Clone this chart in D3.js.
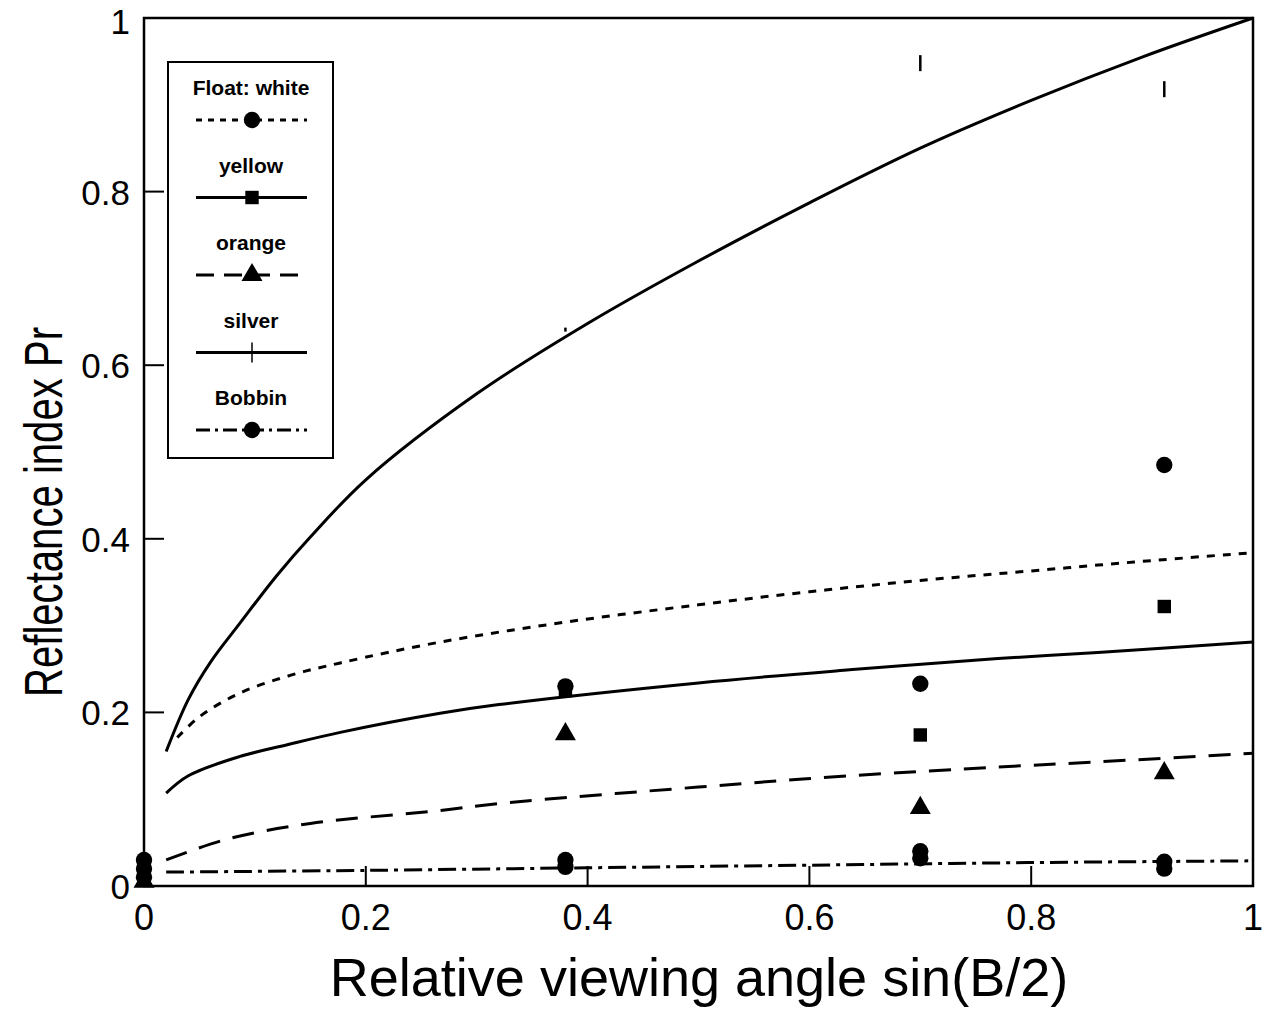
<!DOCTYPE html>
<html>
<head>
<meta charset="utf-8">
<script src="https://cdn.jsdelivr.net/npm/d3@7"></script>
<style>
  body { margin: 0; background: #fff; }
  svg text { font-family: Arial, "Liberation Sans", Helvetica, sans-serif; fill: #000; }
</style>
</head>
<body>
<div id="chart"></div>
<script>
// fitted curves: [sin(B/2), Pr]
var silverCurve = [[0.02,0.155],[0.04,0.215],[0.06,0.258],[0.086,0.302],[0.12,0.358],[0.15,0.402],[0.2,0.468],[0.3,0.567],[0.4,0.648],[0.5,0.72],[0.6,0.787],[0.7,0.85],[0.8,0.905],[0.9,0.955],[1,1.0]];
var whiteCurve = [[0.03,0.171],[0.05,0.195],[0.086,0.222],[0.13,0.242],[0.177,0.257],[0.267,0.281],[0.38,0.304],[0.5,0.324],[0.6,0.339],[0.7,0.352],[0.8,0.363],[0.9,0.374],[1,0.384]];
var yellowCurve = [[0.02,0.107],[0.04,0.127],[0.086,0.149],[0.13,0.163],[0.177,0.177],[0.267,0.199],[0.32,0.209],[0.5,0.234],[0.636,0.249],[0.77,0.262],[0.86,0.269],[1,0.281]];
var orangeCurve = [[0.02,0.03],[0.075,0.054],[0.15,0.072],[0.267,0.087],[0.32,0.095],[0.5,0.114],[0.636,0.127],[0.77,0.137],[0.86,0.143],[1,0.153]];
var bobbinCurve = [[0.02,0.016],[0.2,0.018],[0.4,0.021],[0.6,0.024],[0.8,0.027],[1,0.029]];

// measured points
var angles = [0, 0.38, 0.70, 0.92];
var whitePts = [0.03, 0.23, 0.233, 0.485];
var yellowPts = [0.012, 0.225, 0.174, 0.322];
var orangePts = [0.005, 0.175, 0.09, 0.13];
var silverPts = [null, 0.641, 0.948, 0.918];
var bobbinPtsA = [0.02, 0.03, 0.04, 0.028];
var bobbinPtsB = [0.01, 0.022, 0.032, 0.02];

var ticks = [0, 0.2, 0.4, 0.6, 0.8, 1];
var legendNames = ["Float: white", "yellow", "orange", "silver", "Bobbin"];

var width = 1269, height = 1014;
var x0 = 144, x1 = 1253, y0 = 886, y1 = 18;

var svg = d3.select("#chart").append("svg")
    .attr("width", width)
    .attr("height", height);

var x = d3.scaleLinear().domain([0, 1]).range([x0, x1]);
var y = d3.scaleLinear().domain([0, 1]).range([y0, y1]);

// frame
svg.append("rect")
    .attr("x", x0).attr("y", y1)
    .attr("width", x1 - x0).attr("height", y0 - y1)
    .attr("fill", "none").attr("stroke", "#000").attr("stroke-width", 2.5);

// inward ticks
svg.append("g").selectAll("line").data(ticks.slice(1, 5)).enter()
    .append("line")
    .attr("x1", function(d){ return x(d); }).attr("x2", function(d){ return x(d); })
    .attr("y1", y0).attr("y2", y0 - 20)
    .attr("stroke", "#000").attr("stroke-width", 2);
svg.append("g").selectAll("line").data(ticks.slice(1, 5)).enter()
    .append("line")
    .attr("x1", x0).attr("x2", x0 + 20)
    .attr("y1", function(d){ return y(d); }).attr("y2", function(d){ return y(d); })
    .attr("stroke", "#000").attr("stroke-width", 2);

var fmt = function(d){ return d === 0 || d === 1 ? String(d) : d.toFixed(1); };

svg.append("g").selectAll("text").data(ticks).enter()
    .append("text")
    .attr("x", function(d){ return x(d); })
    .attr("y", 930)
    .attr("text-anchor", "middle")
    .style("font-size", "36px")
    .text(fmt);

svg.append("g").selectAll("text").data(ticks).enter()
    .append("text")
    .attr("x", 130)
    .attr("y", function(d){ return Math.max(y(d) + 13, 34); })
    .attr("text-anchor", "end")
    .style("font-size", "35px")
    .text(fmt);

svg.append("text")
    .attr("x", 699).attr("y", 996)
    .attr("text-anchor", "middle")
    .style("font-size", "54px")
    .text("Relative viewing angle sin(B/2)");

svg.append("text")
    .attr("transform", "translate(62,512) rotate(-90)")
    .attr("text-anchor", "middle")
    .attr("textLength", 370)
    .attr("lengthAdjust", "spacingAndGlyphs")
    .style("font-size", "54px")
    .text("Reflectance index Pr");

// curves
var line = d3.line()
    .x(function(d){ return x(d[0]); })
    .y(function(d){ return y(d[1]); })
    .curve(d3.curveCatmullRom.alpha(0.5));

var styles = [
    {data: silverCurve, dash: null},
    {data: whiteCurve, dash: "8,8"},
    {data: yellowCurve, dash: null},
    {data: orangeCurve, dash: "22,13"},
    {data: bobbinCurve, dash: "18,6,4,6"}
];
styles.forEach(function(s){
    svg.append("path")
        .attr("d", line(s.data))
        .attr("fill", "none")
        .attr("stroke", "#000")
        .attr("stroke-width", 3)
        .attr("stroke-dasharray", s.dash);
});

// markers
function pts(vals) {
    return angles.map(function(a, i){ return [a, vals[i]]; })
        .filter(function(d){ return d[1] !== null; });
}
var circ = d3.symbol().type(d3.symbolCircle).size(210);
var sq = d3.symbol().type(d3.symbolSquare).size(180);
var tri = d3.symbol().type(d3.symbolTriangle).size(190);

function drawMarks(vals, sym) {
    svg.append("g").selectAll("path").data(pts(vals)).enter()
        .append("path")
        .attr("transform", function(d){ return "translate(" + x(d[0]) + "," + y(d[1]) + ")"; })
        .attr("d", sym)
        .attr("fill", "#000");
}
drawMarks(bobbinPtsB, circ);
drawMarks(bobbinPtsA, circ);
drawMarks(orangePts, tri);
drawMarks(yellowPts, sq);
drawMarks(whitePts, circ);

// silver: faint small ticks
svg.append("g").selectAll("line").data(pts(silverPts)).enter()
    .append("line")
    .attr("x1", function(d){ return x(d[0]); }).attr("x2", function(d){ return x(d[0]); })
    .attr("y1", function(d, i){ return y(d[1]) - (i === 0 ? 2 : 8); })
    .attr("y2", function(d, i){ return y(d[1]) + (i === 0 ? 2 : 8); })
    .attr("stroke", "#000").attr("stroke-width", 2.5);

// legend
var lg = svg.append("g");
lg.append("rect")
    .attr("x", 168).attr("y", 62).attr("width", 165).attr("height", 396)
    .attr("fill", "#fff").attr("stroke", "#000").attr("stroke-width", 2);

var legendDash = ["6,6", null, "18,10", null, "14,5,3,5"];
var legendSym = [circ, sq, tri, null, circ];
legendNames.forEach(function(name, i){
    var ty = 95 + i * 77.5, ly = 120 + i * 77.5;
    lg.append("text")
        .attr("x", 251).attr("y", ty)
        .attr("text-anchor", "middle")
        .style("font-size", "21px")
        .style("font-weight", "bold")
        .text(name);
    lg.append("line")
        .attr("x1", 196).attr("x2", 307)
        .attr("y1", ly).attr("y2", ly)
        .attr("stroke", "#000").attr("stroke-width", 3)
        .attr("stroke-dasharray", legendDash[i]);
    if (legendSym[i]) {
        lg.append("path")
            .attr("transform", "translate(252," + ly + ")")
            .attr("d", legendSym[i])
            .attr("fill", "#000");
    } else {
        lg.append("line")
            .attr("x1", 252).attr("x2", 252)
            .attr("y1", ly - 10).attr("y2", ly + 10)
            .attr("stroke", "#000").attr("stroke-width", 1.5);
    }
});
</script>
</body>
</html>
